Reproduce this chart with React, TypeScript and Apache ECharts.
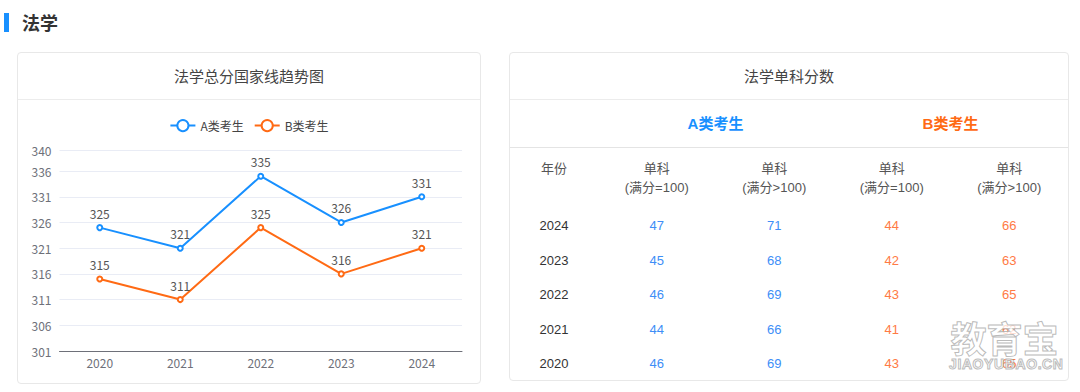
import React, { useEffect, useRef } from "react";
import * as echarts from "echarts";

const years = ["2020", "2021", "2022", "2023", "2024"];
const scoreA = [325, 321, 335, 326, 331];
const scoreB = [315, 311, 325, 316, 321];
const yMin = 301;
const yMax = 340;
const yStep = 5;

const tableYears = ["2024", "2023", "2022", "2021", "2020"];
const aEq100 = [47, 45, 46, 44, 46];
const aGt100 = [71, 68, 69, 66, 69];
const bEq100 = [44, 42, 43, 41, 43];
const bGt100 = [66, 63, 65, 62, 65];

const BLUE = "#1890ff";
const ORANGE = "#ff6a14";
const TBLUE = "#3d8ef7";
const TORANGE = "#ff7a45";

const P = (x: number, y: number) => ({ position: "absolute" as const, left: x, top: y });

function LineChart() {
  const ref = useRef<HTMLDivElement>(null);
  useEffect(() => {
    if (!ref.current) return;
    const chart = echarts.init(ref.current, undefined, { renderer: "svg" });
    chart.setOption({
      animation: false,
      textStyle: { fontFamily: "'Noto Sans CJK SC', 'Noto Sans', sans-serif" },
      legend: {
        top: 14,
        left: "center",
        itemWidth: 25,
        itemHeight: 14,
        itemGap: 10,
        textStyle: { color: "#444", fontSize: 12 },
        data: ["A类考生", "B类考生"],
      },
      grid: { left: 41.5, right: 18, top: 50.5, bottom: 32, containLabel: false },
      xAxis: {
        type: "category",
        data: years,
        boundaryGap: true,
        axisLine: { lineStyle: { color: "#6E7079" } },
        axisTick: { lineStyle: { color: "#6E7079" } },
        axisLabel: { color: "#6E7079", fontSize: 12, margin: 5 },
      },
      yAxis: {
        type: "value",
        min: yMin,
        max: yMax,
        interval: yStep,
        axisLine: { show: false },
        axisTick: { show: false },
        axisLabel: { color: "#6E7079", fontSize: 12, margin: 8 },
        splitLine: { lineStyle: { color: "#E9ECF5" } },
      },
      series: [
        {
          name: "A类考生",
          type: "line",
          data: scoreA,
          symbol: "emptyCircle",
          symbolSize: 5,
          itemStyle: { color: BLUE },
          lineStyle: { width: 2, color: BLUE },
          label: { show: true, position: "top", color: "#555", fontSize: 12 },
        },
        {
          name: "B类考生",
          type: "line",
          data: scoreB,
          symbol: "emptyCircle",
          symbolSize: 5,
          itemStyle: { color: ORANGE },
          lineStyle: { width: 2, color: ORANGE },
          label: { show: true, position: "top", color: "#555", fontSize: 12 },
        },
      ],
    });
    return () => chart.dispose();
  }, []);
  return <div ref={ref} style={{ width: 462, height: 283 }} />;
}

const cardStyle: React.CSSProperties = {
  boxSizing: "border-box",
  border: "1px solid #e8e8e8",
  borderRadius: 4,
  background: "#fff",
  overflow: "hidden",
};

const titleStyle: React.CSSProperties = {
  height: 46,
  lineHeight: "46px",
  borderBottom: "1px solid #ececec",
  textAlign: "center",
  fontSize: 15,
  color: "#444",
};

const cellFont = "'Liberation Sans', Arial, 'Noto Sans CJK SC', sans-serif";

export default function App() {
  const cols = "88px 117.5px 117.5px 117.5px 117.5px";
  return (
    <div
      style={{
        position: "fixed",
        left: 0,
        top: 0,
        width: 1080,
        height: 392,
        overflow: "hidden",
        background: "#fff",
        fontFamily: "'Noto Sans CJK SC', 'Noto Sans', sans-serif",
      }}
    >
      <div style={{ ...P(4, 13), width: 5, height: 19, background: BLUE }} />
      <div
        style={{
          ...P(22, 11),
          height: 22,
          lineHeight: "22px",
          fontSize: 18,
          fontWeight: 700,
          color: "#333",
        }}
      >
        法学
      </div>

      <div style={{ ...P(17, 52), ...cardStyle, width: 464, height: 332 }}>
        <div style={titleStyle}>法学总分国家线趋势图</div>
        <LineChart />
      </div>

      <div style={{ ...P(509, 52), ...cardStyle, width: 560, height: 329, fontFamily: cellFont }}>
        <div style={{ ...titleStyle, fontFamily: "'Noto Sans CJK SC', sans-serif" }}>法学单科分数</div>
        <div
          style={{
            display: "grid",
            gridTemplateColumns: cols,
            height: 47,
            lineHeight: "47px",
            borderBottom: "1px solid #e4e4e4",
            fontSize: 15,
            fontWeight: 700,
            textAlign: "center",
          }}
        >
          <div />
          <div style={{ gridColumn: "span 2", color: BLUE }}>A类考生</div>
          <div style={{ gridColumn: "span 2", color: ORANGE }}>B类考生</div>
        </div>
        <div
          style={{
            display: "grid",
            gridTemplateColumns: cols,
            height: 60,
            boxSizing: "border-box",
            paddingTop: 10.5,
            fontSize: 13,
            lineHeight: "19px",
            color: "#555",
            textAlign: "center",
          }}
        >
          <div>年份</div>
          <div>单科<br />(满分=100)</div>
          <div>单科<br />(满分&gt;100)</div>
          <div>单科<br />(满分=100)</div>
          <div>单科<br />(满分&gt;100)</div>
        </div>
        {tableYears.map((y, i) => (
          <div
            key={y}
            style={{
              display: "grid",
              gridTemplateColumns: cols,
              height: 34.5,
              lineHeight: "35px",
              fontSize: 13,
              textAlign: "center",
            }}
          >
            <div style={{ color: "#333" }}>{y}</div>
            <div style={{ color: TBLUE }}>{aEq100[i]}</div>
            <div style={{ color: TBLUE }}>{aGt100[i]}</div>
            <div style={{ color: TORANGE }}>{bEq100[i]}</div>
            <div style={{ color: TORANGE }}>{bGt100[i]}</div>
          </div>
        ))}
      </div>

      <div
        style={{
          ...P(949, 317),
          width: 111,
          textAlign: "center",
          pointerEvents: "none",
          color: "rgba(255,255,255,0.75)",
          WebkitTextStroke: "1px rgba(165,165,165,0.75)",
          fontFamily: "'Noto Sans CJK SC', sans-serif",
        }}
      >
        <div style={{ fontSize: 36, lineHeight: "40px", fontWeight: 700 }}>教育宝</div>
        <div
          style={{
            fontSize: 14,
            lineHeight: "14px",
            fontWeight: 700,
            fontFamily: cellFont,
            letterSpacing: 0.6,
            marginTop: 0,
          }}
        >
          JIAOYUBAO.CN
        </div>
      </div>
    </div>
  );
}
